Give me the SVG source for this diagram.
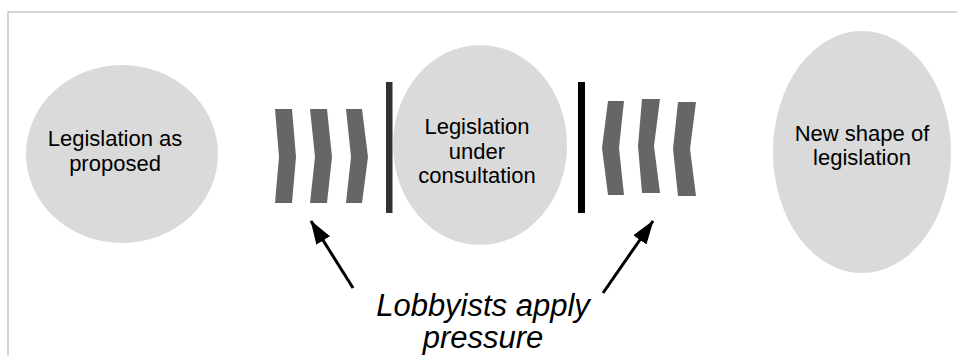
<svg xmlns="http://www.w3.org/2000/svg" width="957" height="356" viewBox="0 0 957 356">
<style>
.node{fill:#dadada}
.lbl{font-family:"Liberation Sans",Arial,sans-serif;font-size:22px;fill:#000;text-anchor:middle}
.chev{fill:#666}
.note{font-family:"Liberation Sans",Arial,sans-serif;font-size:31px;font-style:italic;fill:#000;text-anchor:middle}
.arrow{stroke:#000;stroke-width:3;fill:none;marker-end:url(#head)}
</style>
<defs>
<marker id="head" markerUnits="userSpaceOnUse" viewBox="0 0 24 16" refX="23" refY="8" markerWidth="24" markerHeight="16" orient="auto">
<path d="M0,0 L24,8 L0,16 Z" fill="#000"/>
</marker>
</defs>
<rect width="957" height="356" fill="#fff"/>
<path d="M8,356 V12 H957" fill="none" stroke="#c8c8c8" stroke-width="1.5"/>

<g id="proposed">
<ellipse class="node" cx="122" cy="154" rx="96" ry="89"/>
<text class="lbl" x="115" y="146">Legislation as</text>
<text class="lbl" x="115" y="171">proposed</text>
</g>

<g id="consultation">
<ellipse class="node" cx="480" cy="145" rx="87" ry="100"/>
<text class="lbl" x="477" y="134">Legislation</text>
<text class="lbl" x="477" y="159">under</text>
<text class="lbl" x="477" y="183">consultation</text>
</g>

<g id="newshape">
<ellipse class="node" cx="862" cy="152" rx="89" ry="121"/>
<text class="lbl" x="862" y="141">New shape of</text>
<text class="lbl" x="862" y="165">legislation</text>
</g>

<g id="left-pressure">
<polygon class="chev" points="275,109 292,109 296,157 292,203 275,203 279,157"/>
<polygon class="chev" points="310,109 327,109 332,157 327,203 310,203 315,157"/>
<polygon class="chev" points="346,109 362,109 368,157 362,203 346,203 351,157"/>
<rect x="386" y="82" width="6.5" height="131" fill="#333"/>
</g>

<g id="right-pressure">
<rect x="578" y="82" width="7" height="131" fill="#000"/>
<polygon class="chev" points="608,101 624,101 619,148 624,195 608,195 602,148"/>
<polygon class="chev" points="642,99 660,99 654,146 660,193 642,193 638,146"/>
<polygon class="chev" points="678,102 696,102 690,149 696,196 678,196 673,149"/>
</g>

<g id="lobbyists">
<text class="note" x="483" y="316">Lobbyists apply</text>
<text class="note" x="483" y="348">pressure</text>
</g>

<g id="connectors">
<line class="arrow" x1="353" y1="288" x2="311" y2="221"/>
<line class="arrow" x1="603" y1="293" x2="653" y2="221"/>
</g>
</svg>
